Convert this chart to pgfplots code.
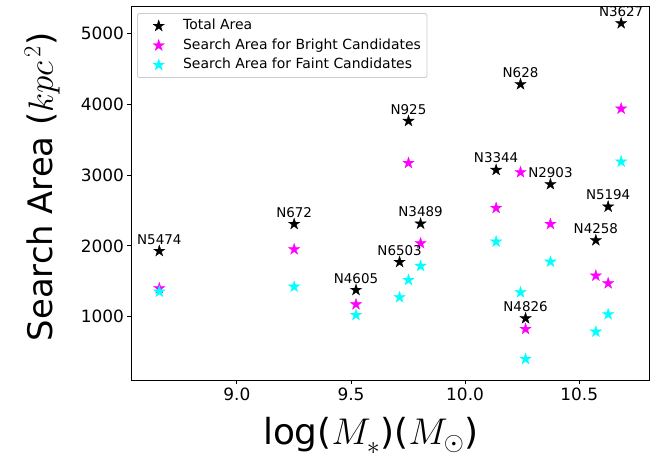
\documentclass[border=0pt]{standalone}
\usepackage{graphicx}
\usepackage{fontspec}
\setmainfont{DejaVu Sans}
\usepackage{pgfplots}
\pgfplotsset{compat=1.18}
\usepackage{pgfplotstable}
\definecolor{mpmag}{rgb}{1,0,1}
\definecolor{mpcyan}{rgb}{0,1,1}

\pgfdeclareplotmark{fstar}{%
  \pgfpathmoveto{\pgfpointpolar{90}{\pgfplotmarksize}}%
  \pgfpathlineto{\pgfpointpolar{126}{0.382\pgfplotmarksize}}%
  \pgfpathlineto{\pgfpointpolar{162}{\pgfplotmarksize}}%
  \pgfpathlineto{\pgfpointpolar{198}{0.382\pgfplotmarksize}}%
  \pgfpathlineto{\pgfpointpolar{234}{\pgfplotmarksize}}%
  \pgfpathlineto{\pgfpointpolar{270}{0.382\pgfplotmarksize}}%
  \pgfpathlineto{\pgfpointpolar{306}{\pgfplotmarksize}}%
  \pgfpathlineto{\pgfpointpolar{342}{0.382\pgfplotmarksize}}%
  \pgfpathlineto{\pgfpointpolar{18}{\pgfplotmarksize}}%
  \pgfpathlineto{\pgfpointpolar{54}{0.382\pgfplotmarksize}}%
  \pgfpathclose
  \pgfusepathqfillstroke
}

\pgfplotstableread{
x      total bright faint label
8.660  1927  1401   1353  N5474
9.251  2308  1951   1423  N672
9.522  1377  1175   1024  N4605
9.713  1772  nan    1274  N6503
9.752  3762  3169   1518  N925
9.805  2313  2036   1716  N3489
10.136 3071  2534   2059  N3344
10.243 4280  3038   1344  N628
10.374 2869  2308   1776  N2903
10.265 977   826    403   N4826
10.573 2078  1579   788   N4258
10.627 2553  1471   1034  N5194
10.684 5141  3936   3188  N3627
}\galdata

\begin{document}
\begin{tikzpicture}
\begin{axis}[
  at={(131bp,79.5bp)}, anchor=south west,
  scale only axis, width=518bp, height=374.5bp,
  xmin=8.536, xmax=10.806, ymin=100, ymax=5385,
  xtick={9,9.5,10,10.5}, ytick={1000,2000,3000,4000,5000},
  x tick label style={/pgf/number format/.cd, fixed, fixed zerofill, precision=1, /tikz/.cd},
  y tick label style={/pgf/number format/.cd, fixed, 1000 sep={}, /tikz/.cd},
  /pgf/number format/assume math mode=true,
  tick label style={font=\fontsize{17}{20}\selectfont},
  tick align=outside, tick pos=left, major tick length=3.5bp,
  tick style={line width=0.8bp, black},
  axis line style={line width=0.8bp},
  xlabel={\scalebox{1.5}{log($M_{\raisebox{-0.2ex}{$\scriptstyle *$}}$)($M_{\odot}$)}},
  ylabel={\scalebox{1.415}{Search Area ($kpc^{\,2}$)}},
  xlabel style={at={(axis description cs:0.463,-0.1722)}, anchor=base, font=\fontsize{24}{30}\selectfont},
  ylabel style={at={(axis description cs:-0.1506,0.5175)}, anchor=base, font=\fontsize{24}{30}\selectfont},
  legend style={at={(axis description cs:0.0116,0.981)}, anchor=north west,
    draw=black!20, rounded corners=2bp, fill=white, line width=0.8bp,
    inner xsep=6bp, inner ysep=6bp, row sep=6.5bp,
    font=\fontsize{14}{16}\selectfont,
    nodes={inner sep=0pt, text height=10bp, text depth=3bp}},
  legend cell align=left,
  legend image code/.code={\path[draw=none, fill=none] (0bp,-6.5bp) rectangle (39.7bp,6.5bp);
    \draw[sharp corners,#1,only marks] plot coordinates {(15.3bp,0bp)};},
]
\addplot[only marks, mark=fstar, mark size=6bp, black, mark options={line width=0.3bp}]
  table[x=x, y=total] {\galdata};
\addlegendentry{Total Area}
\addplot[only marks, mark=fstar, mark size=6bp, mpmag, mark options={line width=0.3bp}]
  table[x=x, y=bright] {\galdata};
\addlegendentry{Search Area for Bright Candidates}
\addplot[only marks, mark=fstar, mark size=6bp, mpcyan, mark options={line width=0.3bp}]
  table[x=x, y=faint] {\galdata};
\addlegendentry{Search Area for Faint Candidates}
\addplot[draw=none, mark=none, forget plot, nodes near coords, point meta=explicit symbolic,
  nodes near coords style={anchor=base, yshift=7bp, font=\fontsize{13.5}{16}\selectfont, text=black}]
  table[x=x, y=total, meta=label] {\galdata};
\end{axis}
\pgfresetboundingbox
\path (0,0) rectangle (654bp,460bp);
\end{tikzpicture}
\end{document}
